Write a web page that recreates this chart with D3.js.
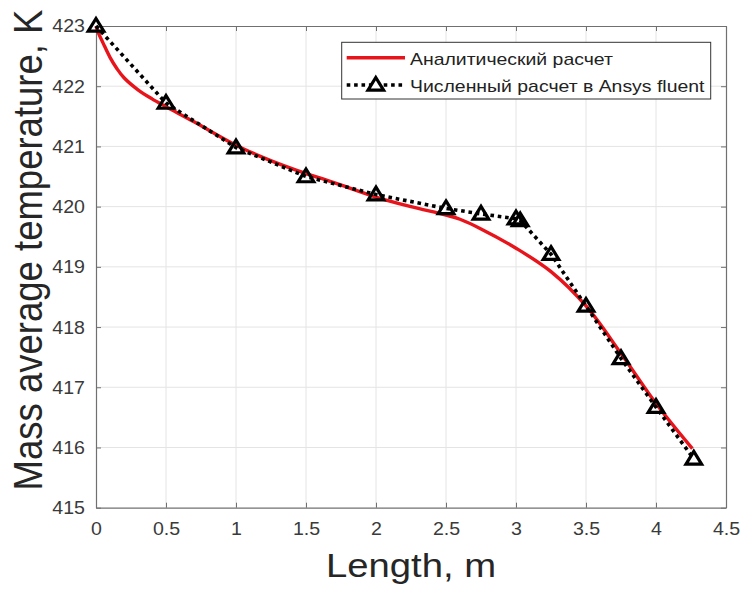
<!DOCTYPE html>
<html><head><meta charset="utf-8">
<script src="https://cdn.jsdelivr.net/npm/d3@7/dist/d3.min.js"></script>
<style>
body{margin:0;background:#fff}
text{font-family:"Liberation Sans",Arial,Helvetica,sans-serif}
</style>
</head><body>
<svg id="chart" width="742" height="590"></svg>
<script>
// ---------- data ----------
const xTicks = [0, 0.5, 1, 1.5, 2, 2.5, 3, 3.5, 4, 4.5];
const xTickLabels = ["0", "0.5", "1", "1.5", "2", "2.5", "3", "3.5", "4", "4.5"];
const yTicks = [415, 416, 417, 418, 419, 420, 421, 422, 423];
const yTickLabels = ["415", "416", "417", "418", "419", "420", "421", "422", "423"];

const analyticX = [0, 0.02, 0.05, 0.1, 0.15, 0.2, 0.3, 0.4, 0.5, 0.7, 1.0, 1.2, 1.4, 1.5, 1.7, 2.0, 2.25, 2.5, 2.6, 2.75, 3.0, 3.25, 3.5, 3.75, 4.0, 4.26];
const analyticY = [423, 422.87, 422.72, 422.48, 422.29, 422.14, 421.94, 421.79, 421.66, 421.41, 421.02, 420.81, 420.63, 420.55, 420.4, 420.16, 420.0, 419.86, 419.79, 419.63, 419.31, 418.92, 418.35, 417.56, 416.73, 415.98];

const numericX = [0, 0.5, 1.0, 1.5, 2.0, 2.5, 2.75, 3.0, 3.03, 3.25, 3.5, 3.75, 4.0, 4.27];
const numericY = [423, 421.72, 420.98, 420.5, 420.2, 419.97, 419.88, 419.8, 419.77, 419.21, 418.35, 417.48, 416.67, 415.81];

const seriesNames = ["Аналитический расчет", "Численный расчет в Ansys fluent"];
const xLabel = "Length, m";
const yLabel = "Mass average temperature, K";

// ---------- layout ----------
const SX = 1.12; // horizontal stretch of glyphs seen in reference
const svg = d3.select("#chart");
svg.append("rect").attr("width", 742).attr("height", 590).attr("fill", "#fff");

const x = d3.scaleLinear().domain([0, 4.5]).range([96, 726]);
const y = d3.scaleLinear().domain([415, 423]).range([507.7, 26]);
const [x0, x1] = x.range();
const [y0, y1] = y.range();

// grid
const grid = svg.append("g");
grid.selectAll("line.gx").data(xTicks.slice(1, -1)).join("line")
  .attr("x1", d => x(d)).attr("x2", d => x(d)).attr("y1", y0).attr("y2", y1)
  .attr("stroke", "#e4e4e4").attr("stroke-width", 1);
grid.selectAll("line.gy").data(yTicks.slice(1, -1)).join("line")
  .attr("y1", d => y(d)).attr("y2", d => y(d)).attr("x1", x0).attr("x2", x1)
  .attr("stroke", "#e4e4e4").attr("stroke-width", 1);

// axes (ticks inward, box)
const axisColor = "#707070";
const labelColor = "#3a3a3a";
const tk = 5;
const gxB = svg.append("g").attr("transform", `translate(0,${y0})`)
  .call(d3.axisBottom(x).tickValues(xTicks).tickSizeInner(-tk).tickSizeOuter(0)
    .tickFormat((d, i) => xTickLabels[i]));
const gxT = svg.append("g").attr("transform", `translate(0,${y1})`)
  .call(d3.axisTop(x).tickValues(xTicks).tickSizeInner(-tk).tickSizeOuter(0).tickFormat(""));
const gyL = svg.append("g").attr("transform", `translate(${x0},0)`)
  .call(d3.axisLeft(y).tickValues(yTicks).tickSizeInner(-tk).tickSizeOuter(0)
    .tickFormat((d, i) => yTickLabels[i]));
const gyR = svg.append("g").attr("transform", `translate(${x1},0)`)
  .call(d3.axisRight(y).tickValues(yTicks).tickSizeInner(-tk).tickSizeOuter(0).tickFormat(""));

[gxB, gxT, gyL, gyR].forEach(g => {
  g.select(".domain").attr("stroke", axisColor).attr("stroke-width", 1.2);
  g.selectAll(".tick line").attr("stroke", axisColor).attr("stroke-width", 1);
});
gxB.selectAll(".tick text").attr("fill", labelColor).attr("font-size", 17.5)
  .attr("y", 27.3).attr("dy", null).attr("transform", `scale(${SX},1)`)
  .attr("font-family", null);
gyL.selectAll(".tick text").attr("fill", labelColor).attr("font-size", 17.5)
  .attr("x", -11 / SX).attr("dy", "0.34em").attr("transform", `scale(${SX},1)`)
  .attr("font-family", null);

// axis titles
svg.append("g").attr("transform", `translate(${(x0 + x1) / 2},576.7)`)
  .append("text").attr("text-anchor", "middle").attr("font-size", 33)
  .attr("fill", "#262626").attr("transform", `scale(1.16,1)`).text(xLabel);

svg.append("g").attr("transform", `translate(41.5,${(10 + 490) / 2}) scale(${SX},1) rotate(-90)`)
  .append("text").attr("text-anchor", "middle").attr("font-size", 36.5)
  .attr("fill", "#262626").text(yLabel);

// analytic line
const pts = (xs, ys) => xs.map((v, i) => [v, ys[i]]);
svg.append("path").datum(pts(analyticX, analyticY))
  .attr("d", d3.line().x(d => x(d[0])).y(d => y(d[1])).curve(d3.curveCatmullRom.alpha(0.5)))
  .attr("fill", "none").attr("stroke", "#e8141c").attr("stroke-width", 3.4);

// numeric dotted line
svg.append("path").datum(pts(numericX, numericY))
  .attr("d", d3.line().x(d => x(d[0])).y(d => y(d[1])))
  .attr("fill", "none").attr("stroke", "#000").attr("stroke-width", 3.6)
  .attr("stroke-dasharray", "3.6 3.8");

// triangle markers
const tri = "M0,-7.5L7.8,5.2L-7.8,5.2Z";
svg.append("g").selectAll("path").data(pts(numericX, numericY)).join("path")
  .attr("transform", d => `translate(${x(d[0])},${y(d[1])})`)
  .attr("d", tri).attr("fill", "none").attr("stroke", "#000")
  .attr("stroke-width", 3.2).attr("stroke-linejoin", "miter");

// legend
const lg = svg.append("g");
lg.append("rect").attr("x", 341.7).attr("y", 42.3).attr("width", 369).attr("height", 56.7)
  .attr("fill", "#fff").attr("stroke", "#333").attr("stroke-width", 1);
lg.append("line").attr("x1", 346.7).attr("x2", 405).attr("y1", 57.7).attr("y2", 57.7)
  .attr("stroke", "#e8141c").attr("stroke-width", 3.4);
lg.append("line").attr("x1", 346.7).attr("x2", 405).attr("y1", 85).attr("y2", 85)
  .attr("stroke", "#000").attr("stroke-width", 3.6).attr("stroke-dasharray", "3.6 3.8");
lg.append("path").attr("transform", "translate(375.8,85)").attr("d", tri)
  .attr("fill", "#fff").attr("stroke", "#000").attr("stroke-width", 3.2);
const legendY = [65, 92];
seriesNames.forEach((s, i) => {
  lg.append("g").attr("transform", `translate(410,${legendY[i]})`)
    .append("text").attr("font-size", 17).attr("fill", "#222")
    .attr("transform", `scale(${SX * 1.02},1)`).text(s);
});
</script>
</body></html>
